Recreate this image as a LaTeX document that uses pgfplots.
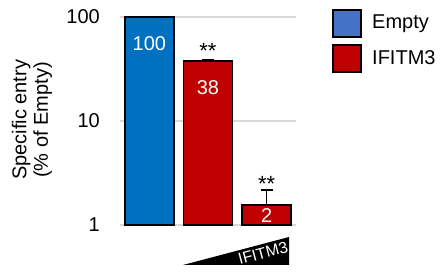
\documentclass[border=0pt]{standalone}
\usepackage{pgfplots}
\pgfplotsset{compat=1.18}
\usepackage{fontspec}
\setmainfont{Liberation Sans}
\definecolor{barblue}{HTML}{0070C0}
\definecolor{legblue}{HTML}{4472C4}
\definecolor{barred}{HTML}{C00000}
\definecolor{gridgray}{HTML}{D9D9D9}
\begin{document}
\begin{tikzpicture}[x=1pt,y=1pt]
\useasboundingbox (0,0) rectangle (447,272);
\begin{axis}[
  at={(120pt,47pt)}, anchor=south west,
  scale only axis, width=176pt, height=208pt,
  ymode=log, ymin=1, ymax=100,
  xmin=-0.5, xmax=2.5,
  ytick={1,10,100}, yticklabels={1,10,100},
  yminorticks=false, xtick=\empty,
  ytick pos=left,
  major tick length=0pt,
  tick style={draw=none},
  axis line style={draw=none},
  ymajorgrids, grid style={gridgray, line width=1.5pt},
  yticklabel style={font=\fontsize{20}{24}\selectfont, inner sep=0pt, anchor=east, xshift=-20pt},
  /pgf/number format/assume math mode=true,
  ylabel={Specific entry\\(\% of Empty)},
  ylabel style={font=\fontsize{20}{21.5}\selectfont, align=center, at={(axis description cs:-0.5,0.505)}, anchor=center},
  ybar, bar width=49pt,
  clip=false,
]
\addplot+[bar shift=0pt, fill=barblue, draw=black, line width=1.5pt] coordinates {(0,100)};
\addplot+[bar shift=0pt, fill=barred, draw=black, line width=1.5pt,
  error bars/.cd, y dir=plus, y explicit,
  error bar style={line width=1.5pt, black},
  error mark options={rotate=90, mark size=6pt, line width=1.5pt, black}]
  coordinates {(1,37.8) +- (0,1.2) (2,1.56) +- (0,0.61)};
\node[white, font=\fontsize{20}{24}\selectfont] at (axis cs:0,56) {100};
\node[white, font=\fontsize{20}{24}\selectfont] at (axis cs:1,20.8) {38};
\node[white, font=\fontsize{20}{24}\selectfont] at (axis cs:2,1.22) {2};
\node[black, font=\fontsize{22}{24}\selectfont, anchor=base, inner sep=0pt] at (axis cs:1,39.5) {**};
\node[black, font=\fontsize{22}{24}\selectfont, anchor=base, inner sep=0pt] at (axis cs:2,2.12) {**};
\end{axis}
% dose triangle
\fill[black] (183,7) -- (289,35) -- (289,7) -- cycle;
\node[white, rotate=15, font=\fontsize{16}{18}\selectfont, inner sep=0pt] at (263,19) {IFITM3};
% legend
\draw[fill=legblue, line width=1.5pt] (333,235) rectangle (361,262);
\draw[fill=barred, line width=1.5pt] (333,200) rectangle (361,227);
\node[anchor=west, inner sep=0pt, font=\fontsize{20}{24}\selectfont] at (372,248) {Empty};
\node[anchor=west, inner sep=0pt, font=\fontsize{20}{24}\selectfont] at (372,214) {IFITM3};
\end{tikzpicture}
\end{document}
